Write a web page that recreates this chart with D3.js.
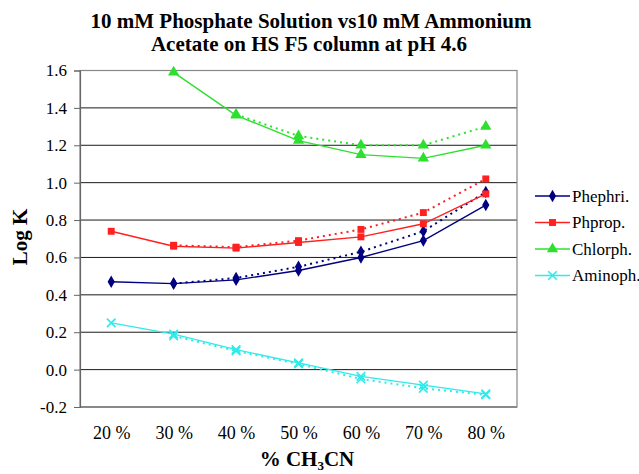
<!DOCTYPE html>
<html>
<head>
<meta charset="utf-8">
<script src="https://cdn.jsdelivr.net/npm/d3@7"></script>
<style>
  body { margin: 0; background: #fff; }
  svg text { font-family: 'Liberation Serif', 'Times New Roman', 'DejaVu Serif', serif !important; fill: #000; }
</style>
</head>
<body>
<script>
// values (solid = phosphate, dotted = ammonium acetate)
const categories = ["20 %", "30 %", "40 %", "50 %", "60 %", "70 %", "80 %"];
const yTicks = [-0.2, 0, 0.2, 0.4, 0.6, 0.8, 1.0, 1.2, 1.4, 1.6];

const phephriPhos = [0.47, 0.46, 0.48, 0.53, 0.60, 0.69, 0.88];
const phephriAmm  = [null, 0.46, 0.49, 0.55, 0.63, 0.74, 0.95];
const phpropPhos  = [0.74, 0.66, 0.65, 0.68, 0.71, 0.78, 0.94];
const phpropAmm   = [null, 0.665, 0.655, 0.69, 0.75, 0.84, 1.02];
const chlorphPhos = [null, 1.59, 1.36, 1.225, 1.15, 1.13, 1.20];
const chlorphAmm  = [null, null, 1.365, 1.25, 1.20, 1.20, 1.30];
const aminophPhos = [0.25, 0.19, 0.107, 0.036, -0.036, -0.083, -0.13];
const aminophAmm  = [null, 0.18, 0.10, 0.03, -0.05, -0.10, -0.135];

const seriesNames = ["Phephri.", "Phprop.", "Chlorph.", "Aminoph."];
const seriesColors = ["#000080", "#ff2020", "#2ee02e", "#30eaea"];
const seriesSymbols = ["diamond", "square", "triangle", "cross"];

const series = [
  {name: seriesNames[0], phos: phephriPhos, amm: phephriAmm},
  {name: seriesNames[1], phos: phpropPhos, amm: phpropAmm},
  {name: seriesNames[2], phos: chlorphPhos, amm: chlorphAmm},
  {name: seriesNames[3], phos: aminophPhos, amm: aminophAmm}
];

const FONT = "'Liberation Serif', 'Times New Roman', serif";

const W = 639, H = 474;
const margin = {top: 70.5, right: 122, bottom: 67, left: 80},
    width = W - margin.left - margin.right,
    height = H - margin.top - margin.bottom;

const svg = d3.select("body").append("svg")
    .attr("width", W)
    .attr("height", H)
    .attr("font-family", FONT);

const g = svg.append("g")
    .attr("transform", "translate(" + margin.left + "," + margin.top + ")");

const x = d3.scalePoint()
    .domain(categories)
    .range([0, width])
    .padding(0.5);
const y = d3.scaleLinear()
    .domain([-0.2, 1.6])
    .range([height, 0]);

// gridlines
g.append("g")
    .selectAll("line")
    .data(yTicks)
    .join("line")
    .attr("x1", 0)
    .attr("x2", width)
    .attr("y1", d => y(d))
    .attr("y2", d => y(d))
    .attr("stroke", "#1a1a1a")
    .attr("stroke-width", 1);

// plot border
g.append("rect")
    .attr("width", width)
    .attr("height", height)
    .attr("fill", "none")
    .attr("stroke", "#888")
    .attr("stroke-width", 1.2);

// y axis, plain hyphen for negatives like the original
const fmt = d3.format(".1f");
const yAxis = d3.axisLeft(y)
    .tickValues(yTicks)
    .tickFormat(d => fmt(d).replace("\u2212", "-"))
    .tickSize(6)
    .tickPadding(7);
const ya = g.append("g").call(yAxis).attr("font-family", FONT);
ya.select(".domain").attr("stroke", "#666").attr("stroke-width", 1.2);
ya.selectAll(".tick line").attr("stroke", "#666");
ya.selectAll("text")
    .attr("font-family", FONT)
    .attr("font-size", 17)
    .attr("fill", "#000");

// x axis (labels only)
const xAxis = d3.axisBottom(x)
    .tickSize(0)
    .tickPadding(19);
const xa = g.append("g")
    .attr("transform", "translate(0," + height + ")")
    .call(xAxis)
    .attr("font-family", FONT);
xa.select(".domain").remove();
xa.selectAll("text")
    .attr("font-family", FONT)
    .attr("font-size", 18)
    .attr("fill", "#000");

const symbolType = {
  diamond: d3.symbolDiamond,
  square: d3.symbolSquare,
  triangle: d3.symbolTriangle,
  cross: d3.symbolX
};
const symbolSize = {diamond: 45, square: 48, triangle: 55, cross: 50};

function drawMarker(sel, s, px, py) {
  const sym = d3.symbol().type(symbolType[seriesSymbols[s]]).size(symbolSize[seriesSymbols[s]]);
  const m = sel.append("path")
      .attr("d", sym())
      .attr("transform", "translate(" + px + "," + py + ")");
  if (seriesSymbols[s] === "cross") {
    m.attr("fill", "none").attr("stroke", seriesColors[s]).attr("stroke-width", 1.6);
  } else {
    m.attr("fill", seriesColors[s]);
  }
}

const line = d3.line()
    .defined(d => d.v !== null)
    .x(d => x(d.c))
    .y(d => y(d.v));

series.forEach(function(sr, i) {
  const sg = g.append("g");
  const phos = categories.map((c, j) => ({c: c, v: sr.phos[j]}));
  const amm = categories.map((c, j) => ({c: c, v: sr.amm[j]}));

  sg.append("path")
      .datum(amm)
      .attr("d", line)
      .attr("fill", "none")
      .attr("stroke", seriesColors[i])
      .attr("stroke-width", 2)
      .attr("stroke-dasharray", "2,4");
  sg.append("path")
      .datum(phos)
      .attr("d", line)
      .attr("fill", "none")
      .attr("stroke", seriesColors[i])
      .attr("stroke-width", 1.4);

  amm.filter(d => d.v !== null).forEach(d => drawMarker(sg, i, x(d.c), y(d.v)));
  phos.filter(d => d.v !== null).forEach(d => drawMarker(sg, i, x(d.c), y(d.v)));
});

// legend
const legend = svg.append("g")
    .attr("transform", "translate(535,196)");
seriesNames.forEach(function(n, i) {
  const lg = legend.append("g").attr("transform", "translate(0," + (i * 26.5) + ")");
  lg.append("line")
      .attr("x1", 0).attr("x2", 35)
      .attr("stroke", seriesColors[i])
      .attr("stroke-width", 1.4);
  drawMarker(lg, i, 17.5, 0);
  lg.append("text")
      .attr("x", 37)
      .attr("y", 5.5)
      .attr("font-family", FONT)
      .attr("font-size", 17)
      .text(n);
});

// titles
svg.append("text")
    .attr("x", 311)
    .attr("y", 28)
    .attr("text-anchor", "middle")
    .attr("font-family", FONT)
    .attr("font-size", 21)
    .attr("font-weight", "bold")
    .text("10 mM Phosphate Solution vs10 mM Ammonium");
svg.append("text")
    .attr("x", 309)
    .attr("y", 51)
    .attr("text-anchor", "middle")
    .attr("font-family", FONT)
    .attr("font-size", 21)
    .attr("font-weight", "bold")
    .text("Acetate on HS F5 column at pH 4.6");

svg.append("text")
    .attr("transform", "translate(27,237) rotate(-90)")
    .attr("text-anchor", "middle")
    .attr("font-family", FONT)
    .attr("font-size", 21)
    .attr("font-weight", "bold")
    .text("Log K");

const xt = svg.append("text")
    .attr("x", 307)
    .attr("y", 466)
    .attr("text-anchor", "middle")
    .attr("font-family", FONT)
    .attr("font-size", 21)
    .attr("font-weight", "bold");
xt.append("tspan").text("% CH");
xt.append("tspan").attr("dy", 4).attr("font-size", 13).text("3");
xt.append("tspan").attr("dy", -4).text("CN");
</script>
</body>
</html>
